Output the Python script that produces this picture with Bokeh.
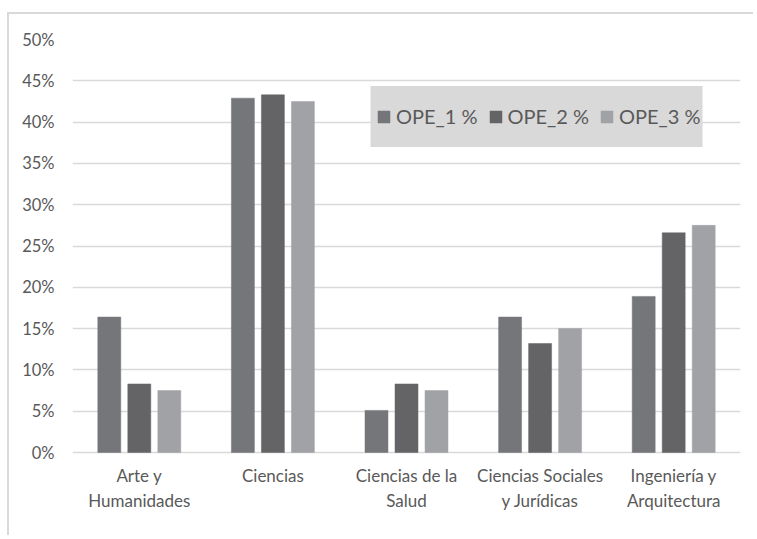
from bokeh.plotting import figure
from bokeh.models import (FactorRange, FixedTicker, NumeralTickFormatter, Legend, LegendItem,
                          ColumnDataSource, BoxAnnotation)
from bokeh.core.properties import value
from bokeh.transform import dodge
from bokeh.embed import file_html
from bokeh.resources import INLINE

categories = ["Arte y Humanidades", "Ciencias", "Ciencias de la Salud",
              "Ciencias Sociales y Jurídicas", "Ingeniería y Arquitectura"]
category_labels = ["Arte y\nHumanidades", "Ciencias", "Ciencias de la\nSalud",
                   "Ciencias Sociales\ny Jurídicas", "Ingeniería y\nArquitectura"]
series_names = ["OPE_1 %", "OPE_2 %", "OPE_3 %"]
ope_1 = [0.164, 0.429, 0.051, 0.164, 0.189]
ope_2 = [0.083, 0.433, 0.083, 0.132, 0.266]
ope_3 = [0.075, 0.425, 0.075, 0.150, 0.275]
y_ticks = [0.0, 0.05, 0.10, 0.15, 0.20, 0.25, 0.30, 0.35, 0.40, 0.45, 0.50]

colors = ["#75767a", "#646466", "#a1a2a6"]
FONT = "Lato"
TXT = "#595959"

src = ColumnDataSource(dict(cat=categories, o1=ope_1, o2=ope_2, o3=ope_3,
                            lab=category_labels, base=[0.0] * len(categories)))

# frame extended below zero so category labels can be drawn inside it
p = figure(x_range=FactorRange(*categories), y_range=(-0.0956, 0.5),
           width=746, height=523, output_backend="svg", toolbar_location=None,
           min_border_left=63, min_border_right=15, min_border_top=25, min_border_bottom=6)
p.styles = {"border-top": "2px solid #d9d9d9", "border-left": "2px solid #d9d9d9",
            "margin-top": "12px", "margin-left": "7px"}
p.outline_line_color = None
p.x_range.range_padding = 0
p.x_range.factor_padding = 0

legend_box = BoxAnnotation(left=298, right=630, bottom=384.5, top=445.5,
                           left_units="screen", right_units="screen",
                           bottom_units="screen", top_units="screen",
                           fill_color="#d9d9d9", fill_alpha=1.0, line_color=None,
                           level="annotation")
p.add_layout(legend_box)

renderers = []
for col, off, c in zip(["o1", "o2", "o3"], [-0.2246, 0.0, 0.2246], colors):
    r = p.vbar(x=dodge("cat", off, range=p.x_range), top=col, width=0.172, source=src,
               fill_color=c, line_color=c, line_width=0.5)
    renderers.append(r)

p.text(x="cat", y="base", text="lab", source=src, y_offset=12,
       text_align="center", text_baseline="top", text_font=value(FONT),
       text_font_size="17px", text_color=TXT, text_line_height=1.2)

p.yaxis.ticker = FixedTicker(ticks=y_ticks)
p.yaxis.formatter = NumeralTickFormatter(format="0%")
p.yaxis.axis_line_color = None
p.yaxis.major_tick_line_color = None
p.yaxis.minor_tick_line_color = None
p.yaxis.major_tick_out = 0
p.yaxis.major_tick_in = 0
p.yaxis.major_label_standoff = 18
p.yaxis.major_label_text_font = FONT
p.yaxis.major_label_text_font_size = "16.5px"
p.yaxis.major_label_text_color = TXT

p.xaxis.visible = False

p.xgrid.grid_line_color = None
p.ygrid.ticker = FixedTicker(ticks=y_ticks)
p.ygrid.grid_line_color = "#d9d9d9"
p.ygrid.grid_line_width = 1.5

legend = Legend(items=[LegendItem(label=n, renderers=[r]) for n, r in zip(series_names, renderers)],
                orientation="horizontal", location=(304, 384.5),
                background_fill_alpha=0.0, border_line_color=None,
                label_text_font=FONT, label_text_font_size="20px", label_text_color=TXT,
                glyph_width=15, glyph_height=15, label_standoff=5, spacing=10,
                label_height=61, padding=0, margin=0)
p.add_layout(legend, "center")

open("out.html", "w").write(file_html(p, INLINE))
